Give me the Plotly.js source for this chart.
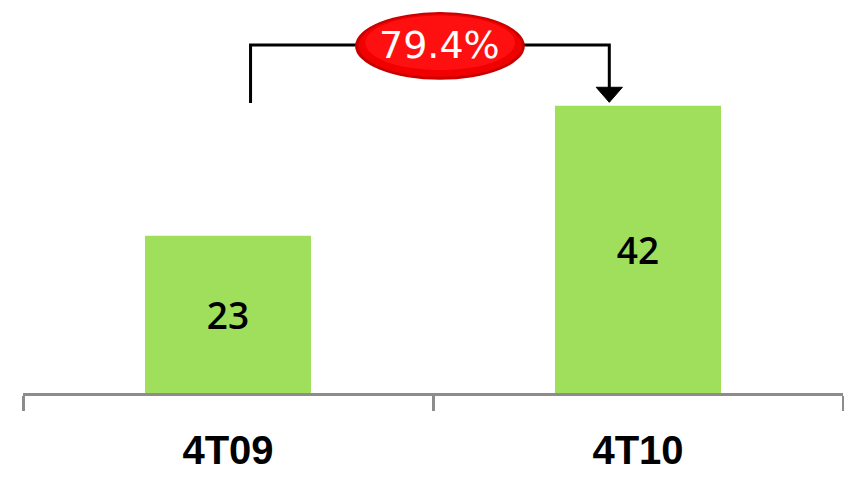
<!DOCTYPE html>
<html>
<head>
<meta charset="utf-8">
<script src="https://cdn.plot.ly/plotly-3.0.1.min.js"></script>
<style>html,body{margin:0;padding:0;background:#fff;}#chart{width:844px;height:479px;}</style>
</head>
<body>
<div id="chart"></div>
<script>
const categories = ["4T09", "4T10"];
const values = [23, 42];
const growthLabel = "79.4%";

const yTop = 56;
const bracketY = 50.9;
const startY = 42.4;

const data = [{
  type: "bar",
  x: categories,
  y: values,
  text: values.map(String),
  textposition: "inside",
  insidetextanchor: "middle",
  textfont: {family: "Open Sans, Liberation Sans, sans-serif", size: 37, color: "#000", weight: 600},
  marker: {color: "#9fdf5b", line: {width: 0}},
  hoverinfo: "none"
}];

const shapes = [
  {type: "path", xref: "x", yref: "y", path: `M 0.055,${startY} L 0.055,${bracketY} L 0.32,${bracketY}`, line: {color: "#000", width: 3}},
  {type: "path", xref: "x", yref: "y", path: `M 0.70,${bracketY} L 0.93,${bracketY} L 0.93,44.5`, line: {color: "#000", width: 3}},
  {type: "path", xref: "x", yref: "y", path: `M 0.898,44.7 L 0.962,44.7 L 0.93,42.5 Z`, fillcolor: "#000", line: {color: "#000", width: 1}},
  {type: "circle", xref: "x", yref: "y", x0: 0.31, x1: 0.724, y0: 45.8, y1: 55.7, fillcolor: "#c80000", line: {width: 0}},
  {type: "circle", xref: "x", yref: "y", x0: 0.318, x1: 0.716, y0: 46.2, y1: 55.4, fillcolor: "#f00000", line: {width: 0}},
  {type: "circle", xref: "x", yref: "y", x0: 0.335, x1: 0.70, y0: 47.2, y1: 55.2, fillcolor: "#ff1010", line: {width: 0}}
];

const annotations = [{
  xref: "x", yref: "y", x: 0.517, y: 50.9,
  text: growthLabel, showarrow: false,
  font: {family: "DejaVu Sans, Verdana, sans-serif", size: 38, color: "#fff"},
  xanchor: "center", yanchor: "middle"
}];

const layout = {
  width: 844, height: 479,
  margin: {l: 23, r: 1, t: 10, b: 86},
  paper_bgcolor: "#fff", plot_bgcolor: "#fff",
  showlegend: false,
  bargap: 0.595,
  xaxis: {
    type: "category",
    range: [-0.5, 1.5],
    showline: true, linecolor: "#8c8c8c", linewidth: 3,
    ticks: "outside", tickson: "boundaries", ticklen: 15, tickwidth: 3, tickcolor: "#8c8c8c",
    tickfont: {family: "Liberation Sans, Arial, sans-serif", size: 40, color: "#000", weight: "bold"},
    ticklabelstandoff: 20,
    showgrid: false, zeroline: false, fixedrange: true
  },
  yaxis: {
    range: [0, yTop], visible: false, showgrid: false, zeroline: false, fixedrange: true
  },
  shapes: shapes,
  annotations: annotations
};

Plotly.newPlot("chart", data, layout, {displayModeBar: false, staticPlot: true});
</script>
</body>
</html>
